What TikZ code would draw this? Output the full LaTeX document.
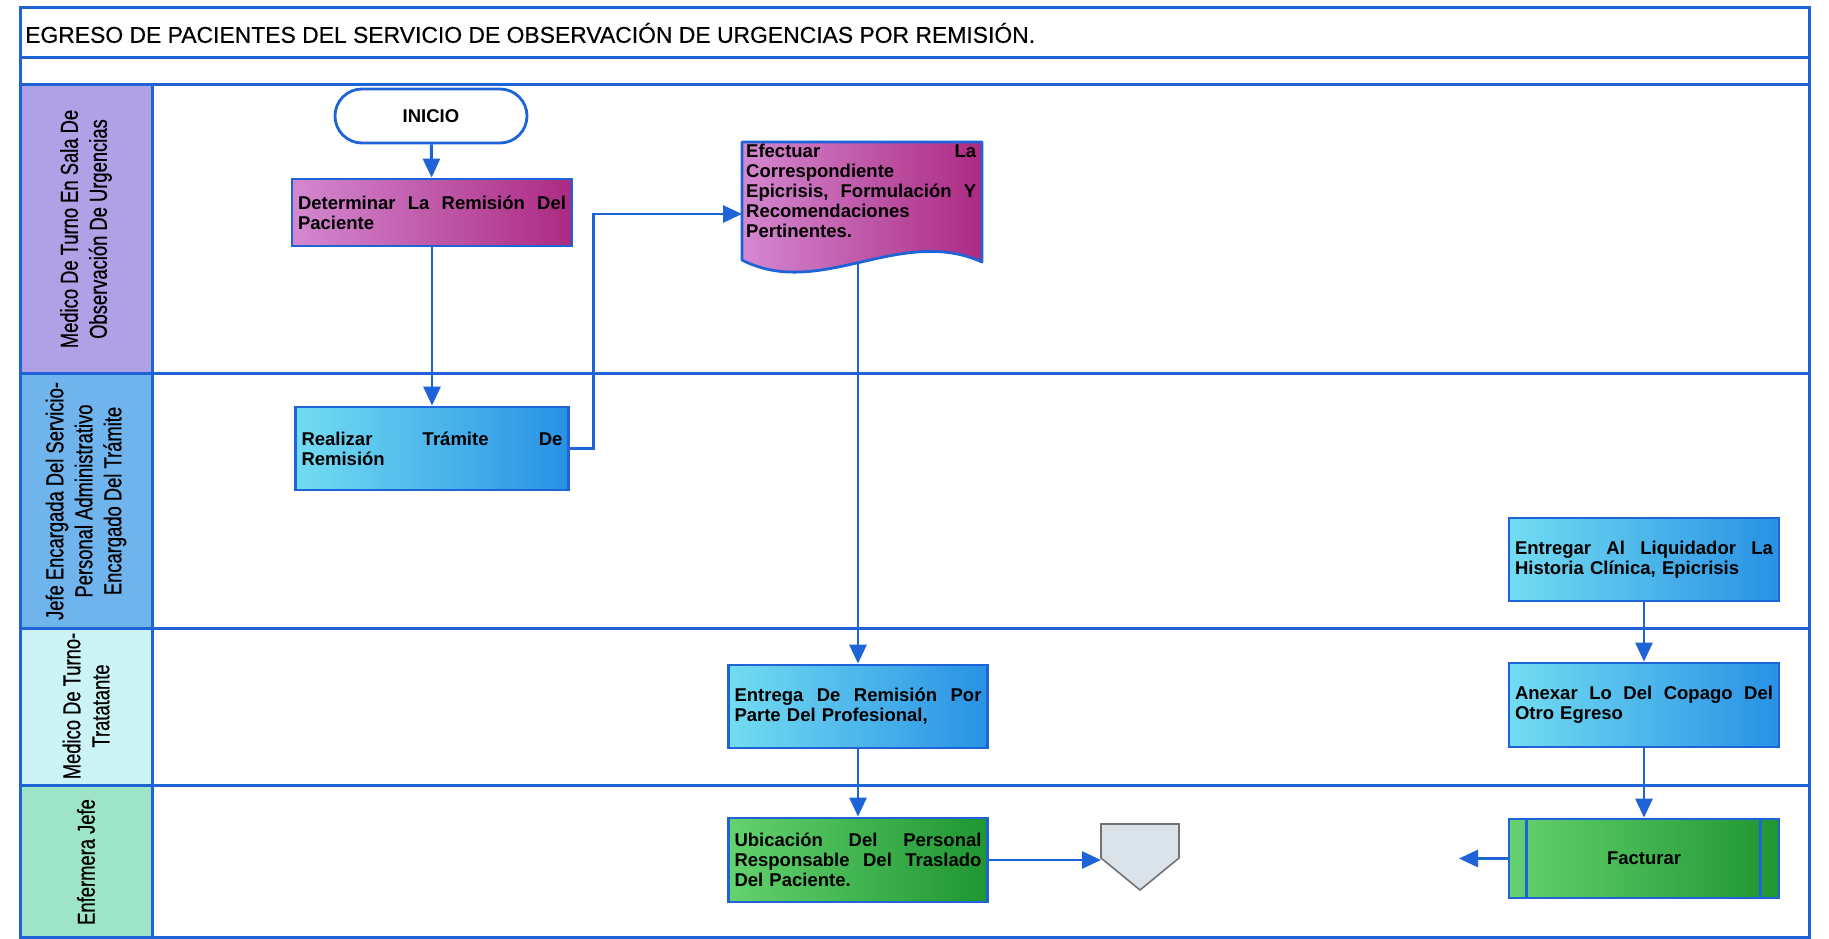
\documentclass[tikz,border=0pt]{standalone}
\usepackage{fontspec}
\setmainfont{Liberation Sans}
\newfontfamily\lanefontfam[FakeStretch=0.75,FakeBold=0.6]{Liberation Sans}
\newfontfamily\titlefontfam[FakeBold=0.4]{Liberation Sans}
\usetikzlibrary{arrows.meta,calc}
\definecolor{lb}{RGB}{30,100,215}
\definecolor{laneA}{RGB}{176,160,230}
\definecolor{laneB}{RGB}{112,180,238}
\definecolor{laneC}{RGB}{204,244,246}
\definecolor{laneD}{RGB}{158,228,200}
\definecolor{magL}{RGB}{212,136,208}
\definecolor{magR}{RGB}{172,42,130}
\definecolor{cyaL}{RGB}{115,220,242}
\definecolor{cyaR}{RGB}{40,145,228}
\definecolor{grnL}{RGB}{100,210,110}
\definecolor{grnR}{RGB}{30,150,50}
\definecolor{offc}{RGB}{218,226,234}
\newcommand{\nodefnt}{\bfseries\fontsize{18.5}{20}\selectfont}
\newcommand{\lanefnt}{\lanefontfam\fontsize{24.5}{29}\selectfont}
\begin{document}
\begin{tikzpicture}[x=1pt,y=-1pt,
  frameline/.style={draw=lb, line width=3pt},
  conn/.style={draw=lb, line width=2.9pt, -{Triangle[length=19pt,width=17pt]}},
  lanelbl/.style={font=\lanefnt, align=center, inner sep=0pt},
  box/.style={draw=lb, line width=2.8pt, inner xsep=6pt, inner ysep=0pt, font=\nodefnt, align=left},
  magbox/.style={box, left color=magL, right color=magR},
  cyabox/.style={box, left color=cyaL, right color=cyaR},
  grnbox/.style={box, left color=grnL, right color=grnR},
  term/.style={draw=lb, line width=2.8pt, fill=white, rounded corners=27pt, font=\bfseries\fontsize{18.5}{20}\selectfont, minimum width=192pt, minimum height=54pt, inner sep=0pt}
]
\useasboundingbox (0,0) rectangle (1829,939);
\fill[white] (0,0) rectangle (1829,939);
% lane label fills
\fill[laneA] (20,85) rectangle (152,373);
\fill[laneB] (20,373) rectangle (152,628);
\fill[laneC] (20,628) rectangle (152,785);
\fill[laneD] (20,785) rectangle (152,937);
% frame and lines
\draw[frameline] (20,8) rectangle (1809,937);
\draw[frameline] (20,58) -- (1809,58);
\draw[frameline] (20,85) -- (1809,85);
\draw[frameline] (20,373) -- (1809,373);
\draw[frameline] (20,628) -- (1809,628);
\draw[frameline] (20,785) -- (1809,785);
\draw[frameline] (152,85) -- (152,937);
% title
\node[anchor=west, font=\titlefontfam\fontsize{22.9}{26}\selectfont, inner sep=0pt] (title) at (25,33) {EGRESO DE PACIENTES DEL SERVICIO DE OBSERVACIÓN DE URGENCIAS POR REMISIÓN.};
% lane labels
\node[lanelbl, rotate=90] (l1) at (86,229) {Medico De Turno En Sala De\\Observación De Urgencias};
\node[lanelbl, rotate=90] (l2) at (86,501) {Jefe Encargada Del Servicio-\\Personal Administrativo\\Encargado Del Trámite};
\node[lanelbl, rotate=90] (l3) at (86,706) {Medico De Turno-\\Tratatante};
\node[lanelbl, rotate=90] (l4) at (86,862) {Enfermera Jefe};
% nodes
\node[term] (inicio) at (431,116) {INICIO};
\node[magbox, minimum width=280pt, minimum height=67pt, text width=268pt] (determ) at (432,212.5) {Determinar\hfill La\hfill Remisión\hfill Del\\Paciente};
\node[cyabox, minimum width=273pt, minimum height=83pt, text width=261pt] (realiz) at (432,448.5) {Realizar\hfill Trámite\hfill De\\Remisión};
% document shape
\shade[left color=magL, right color=magR] (742,142) -- (982,142) -- (982,262) .. controls (900,225) and (820,300) .. (742,260) -- cycle;
\draw[lb, line width=2.8pt, line join=round] (742,142) -- (982,142) -- (982,262) .. controls (900,225) and (820,300) .. (742,260) -- cycle;
\node[anchor=north west, font=\nodefnt, align=left, text width=230pt, inner sep=0pt] (efect) at (746,144) {Efectuar\hfill La\\Correspondiente\\Epicrisis,\hfill Formulación\hfill Y\\Recomendaciones\\Pertinentes.};
\coordinate (efin) at (742,214);
\coordinate (efbot) at (858,262);
\node[cyabox, minimum width=259pt, minimum height=83pt, text width=247pt] (entrega) at (858,706.5) {Entrega\hfill De\hfill Remisión\hfill Por\\Parte Del Profesional,};
\node[grnbox, minimum width=259pt, minimum height=84pt, text width=247pt] (ubic) at (858,860) {Ubicación\hfill Del\hfill Personal\\Responsable\hfill Del\hfill Traslado\\Del Paciente.};
% off-page connector
\filldraw[fill=offc, draw=black!55, line width=1.6pt] (1101,824) -- (1179,824) -- (1179,858) -- (1140,890) -- (1101,858) -- cycle;
\coordinate (offin) at (1101,858);
\node[cyabox, minimum width=270pt, minimum height=83pt, text width=258pt] (entregar) at (1644,559.5) {Entregar\hfill Al\hfill Liquidador\hfill La\\Historia Clínica, Epicrisis};
\node[cyabox, minimum width=270pt, minimum height=84pt, text width=258pt] (anexar) at (1644,705) {Anexar\hfill Lo\hfill Del\hfill Copago\hfill Del\\Otro Egreso};
\node[grnbox, minimum width=270pt, minimum height=79pt, text width=258pt, align=center] (fact) at (1644,858.5) {Facturar};
\draw[lb, line width=2.4pt] ($(fact.north west)+(19,0)$) -- ($(fact.south west)+(19,0)$);
\draw[lb, line width=2.4pt] ($(fact.north east)+(-20,0)$) -- ($(fact.south east)+(-20,0)$);
\coordinate (factout) at (1459,858.5);
% connectors
\draw[conn] (inicio) -- (determ);
\draw[conn] (determ) -- (realiz);
\draw[conn] (realiz.east) -- ++(24,0) |- (efin);
\draw[conn] (efbot) -- (entrega.north);
\draw[conn] (entrega) -- (ubic);
\draw[conn] (ubic.east) -- (ubic.east -| offin);
\draw[conn] (entregar) -- (anexar);
\draw[conn] (anexar) -- (fact);
\draw[conn] (fact.west) -- (factout);
\end{tikzpicture}
\end{document}
